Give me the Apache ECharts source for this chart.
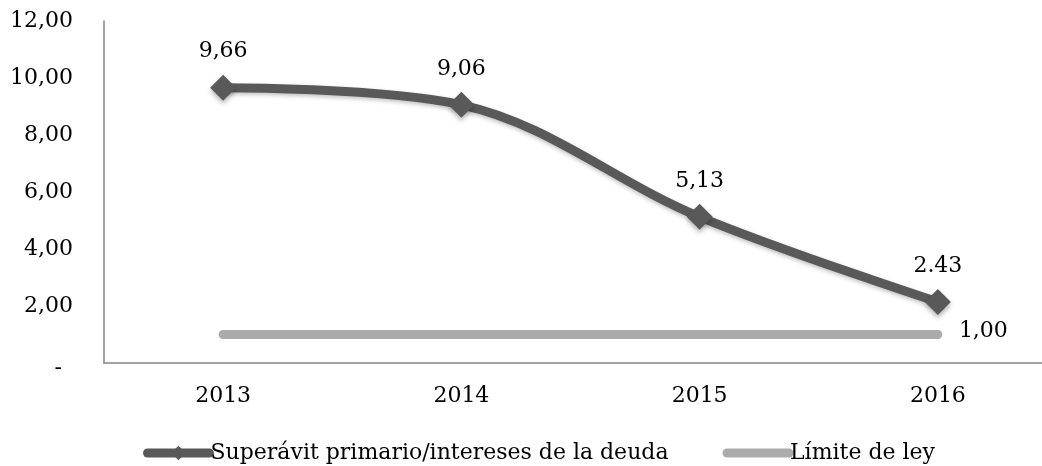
<!DOCTYPE html>
<html>
<head>
<meta charset="utf-8">
<script src="https://cdn.jsdelivr.net/npm/echarts@6/dist/echarts.min.js"></script>
<style>
  html, body { margin: 0; padding: 0; background: #fff; overflow: hidden; }
  #chart { width: 1060px; height: 466px; }
</style>
</head>
<body>
<div id="chart"></div>
<script>
  // datos
  const years = ['2013', '2014', '2015', '2016'];
  const superavit = [9.66, 9.06, 5.13, 2.14];
  const superavitLabels = ['9,66', '9,06', '5,13', '2.43'];
  const limite = [1, 1, 1, 1];
  const limiteLabel = '1,00';

  const font = 'DejaVu Serif';
  const fs = 22;
  const chart = echarts.init(document.getElementById('chart'));

  const option = {
    animation: false,
    textStyle: { fontFamily: font, color: '#000' },
    grid: { left: 104, top: 21, right: 3, bottom: 103 },
    legend: {
      left: 143,
      top: 442,
      padding: 0,
      itemWidth: 62,
      itemHeight: 18,
      itemGap: 54,
      textStyle: { fontFamily: font, fontSize: fs, color: '#000', padding: [0, 0, 0, -4] },
      data: [
        {
          name: 'Superávit primario/intereses de la deuda',
          lineStyle: { width: 9, color: '#595959', cap: 'round' }
        },
        {
          name: 'Límite de ley',
          lineStyle: { width: 9, color: '#ababab', cap: 'round' },
          itemStyle: { opacity: 0 }
        }
      ]
    },
    xAxis: {
      type: 'category',
      data: years,
      boundaryGap: true,
      axisLine: { lineStyle: { color: '#868686', width: 1.5 } },
      axisTick: { show: false },
      axisLabel: { fontFamily: font, fontSize: fs, color: '#000', margin: 22 }
    },
    yAxis: {
      type: 'value',
      min: 0,
      max: 12,
      interval: 2,
      splitLine: { show: false },
      axisTick: { show: false },
      axisLine: { show: true, lineStyle: { color: '#868686', width: 1.5 } },
      axisLabel: {
        fontFamily: font,
        fontSize: fs,
        color: '#000',
        margin: 31,
        formatter: function (v) {
          if (v === 0) return '{d|-}';
          return v.toFixed(2).replace('.', ',');
        },
        rich: { d: { fontFamily: font, fontSize: fs, padding: [10, 11, 0, 0] } }
      }
    },
    series: [
      {
        name: 'Superávit primario/intereses de la deuda',
        type: 'line',
        data: superavit,
        smooth: 0.35,
        symbol: 'diamond',
        symbolSize: 26,
        lineStyle: { color: '#595959', width: 9, shadowColor: 'rgba(0,0,0,0.25)', shadowBlur: 4, shadowOffsetY: 2 },
        itemStyle: { color: '#595959', shadowColor: 'rgba(0,0,0,0.3)', shadowBlur: 5, shadowOffsetY: 3 },
        label: {
          show: true,
          position: 'top',
          distance: 12,
          fontFamily: font,
          fontSize: fs,
          color: '#000',
          formatter: function (p) { return superavitLabels[p.dataIndex]; }
        },
        z: 3
      },
      {
        name: 'Límite de ley',
        type: 'line',
        data: limite,
        symbol: 'none',
        lineStyle: { color: '#ababab', width: 9, cap: 'round' },
        itemStyle: { color: '#ababab' },
        endLabel: {
          show: true,
          fontFamily: font,
          fontSize: fs,
          color: '#000',
          distance: 21,
          offset: [0, -3],
          formatter: limiteLabel
        },
        z: 2
      }
    ]
  };

  chart.setOption(option);
</script>
</body>
</html>
